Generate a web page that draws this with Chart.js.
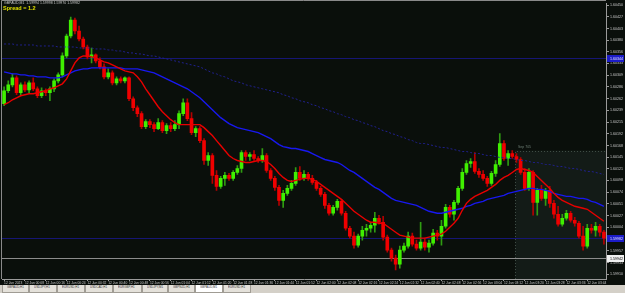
<!DOCTYPE html>
<html><head><meta charset="utf-8">
<script src="https://cdn.jsdelivr.net/npm/chart.js@4.4.0/dist/chart.umd.min.js"></script>
<style>
html,body{margin:0;padding:0;background:#0a0f0b;width:625px;height:293px;overflow:hidden;position:relative;font-family:"Liberation Sans",Arial,sans-serif}
#wrap{position:absolute;left:0;top:0;width:625px;height:285px}
canvas{display:block}
.t{position:absolute;white-space:nowrap;transform-origin:0 0}
#hdr{left:4px;top:1px;font-size:7px;color:#c8c8c8;transform:scale(0.5)}
#spread{left:3px;top:5px;font-size:11px;font-weight:bold;color:#e0e000;transform:scale(0.5)}
#rlab{left:518px;top:145px;font-size:7px;color:#6f7f76;transform:scale(0.5)}
#tabs{position:absolute;left:0;top:285px;width:625px;height:8px;background:#d4d0c8}
.tab{position:absolute;top:0;height:8px;border:1px solid #a09c94;border-top:none;background:#e4e1da;box-sizing:border-box;overflow:hidden}
.tab span{position:absolute;left:4px;top:1px;font-size:8px;line-height:8px;color:#333;transform:scale(0.37);transform-origin:0 0;white-space:nowrap}
.tab.active{background:#ffffff}
</style></head>
<body>
<div id="wrap"><canvas id="c" width="625" height="285"></canvas></div>
<div class="t" id="hdr">GBPAUD,M1&nbsp;&nbsp;1.59994 1.59998 1.59970 1.59982</div>
<div class="t" id="spread">Spread = 1.2</div>
<div class="t" id="rlab">Sep 705</div>
<div id="tabs"></div>
<script>
const opens = [1.60252,1.60278,1.60290,1.60304,1.60274,1.60290,1.60280,1.60294,1.60282,1.60268,
1.60278,1.60274,1.60282,1.60298,1.60310,1.60348,1.60388,1.60420,1.60398,1.60382,
1.60366,1.60346,1.60350,1.60338,1.60326,1.60306,1.60314,1.60294,1.60302,1.60298,
1.60304,1.60262,1.60244,1.60232,1.60206,1.60216,1.60210,1.60202,1.60214,1.60198,
1.60208,1.60202,1.60210,1.60232,1.60254,1.60222,1.60194,1.60202,1.60178,1.60138,
1.60148,1.60108,1.60086,1.60102,1.60108,1.60102,1.60114,1.60122,1.60154,1.60146,
1.60150,1.60142,1.60138,1.60148,1.60118,1.60102,1.60084,1.60058,1.60072,1.60082,
1.60092,1.60114,1.60102,1.60110,1.60102,1.60094,1.60082,1.60070,1.60048,1.60032,
1.60044,1.60056,1.60032,1.60002,1.59986,1.59968,1.59986,1.59998,1.60002,1.60008,
1.60022,1.60014,1.59984,1.59958,1.59942,1.59930,1.59958,1.59966,1.59986,1.59970,
1.59962,1.59974,1.59964,1.59972,1.59992,1.59986,1.60006,1.60044,1.60030,1.60054,
1.60082,1.60114,1.60132,1.60136,1.60116,1.60110,1.60102,1.60092,1.60112,1.60130,
1.60172,1.60142,1.60152,1.60146,1.60140,1.60114,1.60082,1.60114,1.60054,1.60078,
1.60062,1.60078,1.60052,1.60030,1.60010,1.60022,1.60032,1.60018,1.60012,1.59986,
1.59966,1.60002,1.59998,1.60006,1.59994];
const highs = [1.60286,1.60298,1.60312,1.60308,1.60294,1.60296,1.60298,1.60304,1.60286,1.60284,
1.60282,1.60286,1.60302,1.60314,1.60354,1.60392,1.60426,1.60424,1.60408,1.60386,
1.60370,1.60364,1.60352,1.60344,1.60332,1.60322,1.60318,1.60306,1.60306,1.60306,
1.60306,1.60266,1.60248,1.60236,1.60220,1.60220,1.60214,1.60222,1.60218,1.60212,
1.60214,1.60218,1.60238,1.60262,1.60262,1.60234,1.60206,1.60206,1.60182,1.60154,
1.60152,1.60118,1.60106,1.60114,1.60112,1.60118,1.60128,1.60158,1.60158,1.60154,
1.60158,1.60146,1.60162,1.60152,1.60122,1.60106,1.60088,1.60078,1.60088,1.60098,
1.60124,1.60126,1.60118,1.60114,1.60108,1.60098,1.60086,1.60074,1.60052,1.60048,
1.60060,1.60060,1.60036,1.60006,1.59994,1.59990,1.60006,1.60010,1.60014,1.60034,
1.60028,1.60026,1.59988,1.59962,1.59948,1.59966,1.59972,1.59994,1.59992,1.59978,
1.60014,1.59982,1.59978,1.60000,1.59998,1.60018,1.60050,1.60048,1.60058,1.60086,
1.60122,1.60138,1.60142,1.60154,1.60122,1.60118,1.60106,1.60116,1.60138,1.60192,
1.60178,1.60158,1.60158,1.60152,1.60144,1.60122,1.60122,1.60118,1.60082,1.60088,
1.60082,1.60086,1.60058,1.60046,1.60030,1.60038,1.60036,1.60024,1.60016,1.60006,
1.60010,1.60010,1.60014,1.60010,1.59998];
const lows = [1.60248,1.60274,1.60286,1.60270,1.60268,1.60276,1.60274,1.60278,1.60264,1.60264,
1.60268,1.60258,1.60276,1.60294,1.60306,1.60344,1.60384,1.60392,1.60378,1.60362,
1.60342,1.60334,1.60334,1.60322,1.60302,1.60302,1.60290,1.60290,1.60294,1.60294,
1.60258,1.60238,1.60226,1.60202,1.60202,1.60204,1.60196,1.60200,1.60194,1.60192,
1.60196,1.60198,1.60202,1.60228,1.60218,1.60190,1.60186,1.60174,1.60130,1.60128,
1.60092,1.60078,1.60082,1.60088,1.60098,1.60098,1.60110,1.60114,1.60138,1.60138,
1.60138,1.60134,1.60134,1.60114,1.60098,1.60078,1.60048,1.60044,1.60068,1.60078,
1.60088,1.60098,1.60098,1.60098,1.60090,1.60078,1.60066,1.60042,1.60028,1.60028,
1.60038,1.60028,1.59998,1.59982,1.59962,1.59964,1.59978,1.59986,1.59994,1.59994,
1.60010,1.59978,1.59954,1.59936,1.59918,1.59922,1.59954,1.59962,1.59966,1.59958,
1.59958,1.59958,1.59954,1.59968,1.59978,1.59968,1.60002,1.60024,1.60018,1.60050,
1.60078,1.60110,1.60124,1.60112,1.60104,1.60098,1.60086,1.60088,1.60106,1.60126,
1.60138,1.60128,1.60142,1.60134,1.60110,1.60078,1.60078,1.60028,1.60028,1.60058,
1.60048,1.60044,1.60022,1.60006,1.60006,1.60018,1.60014,1.60006,1.59982,1.59958,
1.59962,1.59992,1.59986,1.59986,1.59970];
const closes = [1.60278,1.60290,1.60304,1.60274,1.60290,1.60280,1.60294,1.60282,1.60268,1.60278,
1.60274,1.60282,1.60298,1.60310,1.60348,1.60388,1.60420,1.60398,1.60382,1.60366,
1.60346,1.60350,1.60338,1.60326,1.60306,1.60314,1.60294,1.60302,1.60298,1.60304,
1.60262,1.60244,1.60232,1.60206,1.60216,1.60210,1.60202,1.60214,1.60198,1.60208,
1.60202,1.60210,1.60232,1.60254,1.60222,1.60194,1.60202,1.60178,1.60138,1.60148,
1.60108,1.60086,1.60102,1.60108,1.60102,1.60114,1.60122,1.60154,1.60146,1.60150,
1.60142,1.60138,1.60148,1.60118,1.60102,1.60084,1.60058,1.60072,1.60082,1.60092,
1.60114,1.60102,1.60110,1.60102,1.60094,1.60082,1.60070,1.60048,1.60032,1.60044,
1.60056,1.60032,1.60002,1.59986,1.59968,1.59986,1.59998,1.60002,1.60008,1.60022,
1.60014,1.59984,1.59958,1.59942,1.59930,1.59958,1.59966,1.59986,1.59970,1.59962,
1.59974,1.59964,1.59972,1.59992,1.59986,1.60006,1.60044,1.60030,1.60054,1.60082,
1.60114,1.60132,1.60136,1.60116,1.60110,1.60102,1.60092,1.60112,1.60130,1.60172,
1.60142,1.60152,1.60146,1.60140,1.60114,1.60082,1.60114,1.60054,1.60078,1.60062,
1.60078,1.60052,1.60030,1.60010,1.60022,1.60032,1.60018,1.60012,1.59986,1.59966,
1.60002,1.59998,1.60006,1.59994,1.59982];
const maFast = [1.60250,1.60254,1.60260,1.60264,1.60268,1.60270,1.60272,1.60272,1.60274,1.60276,
1.60278,1.60282,1.60284,1.60288,1.60292,1.60302,1.60318,1.60334,1.60344,1.60348,
1.60348,1.60346,1.60344,1.60340,1.60336,1.60334,1.60330,1.60326,1.60322,1.60318,
1.60316,1.60314,1.60306,1.60296,1.60282,1.60270,1.60258,1.60246,1.60236,1.60228,
1.60220,1.60214,1.60210,1.60210,1.60210,1.60210,1.60210,1.60210,1.60204,1.60196,
1.60188,1.60178,1.60168,1.60158,1.60148,1.60142,1.60138,1.60136,1.60134,1.60134,
1.60136,1.60138,1.60138,1.60136,1.60130,1.60122,1.60112,1.60104,1.60098,1.60096,
1.60098,1.60100,1.60102,1.60102,1.60100,1.60096,1.60090,1.60084,1.60078,1.60072,
1.60066,1.60060,1.60052,1.60044,1.60036,1.60030,1.60024,1.60018,1.60014,1.60014,
1.60012,1.60012,1.60006,1.60000,1.59994,1.59988,1.59986,1.59984,1.59982,1.59982,
1.59982,1.59982,1.59984,1.59986,1.59988,1.59990,1.59996,1.60004,1.60012,1.60022,
1.60038,1.60052,1.60060,1.60066,1.60070,1.60074,1.60078,1.60084,1.60090,1.60098,
1.60104,1.60108,1.60114,1.60120,1.60122,1.60120,1.60118,1.60114,1.60106,1.60098,
1.60090,1.60082,1.60072,1.60064,1.60058,1.60054,1.60050,1.60046,1.60044,1.60042,
1.60040,1.60034,1.60028,1.60022,1.60016];
const maSlow = [1.60316,1.60314,1.60312,1.60312,1.60310,1.60310,1.60308,1.60308,1.60306,1.60306,
1.60306,1.60304,1.60304,1.60304,1.60306,1.60310,1.60314,1.60318,1.60320,1.60322,
1.60322,1.60324,1.60324,1.60324,1.60324,1.60324,1.60324,1.60324,1.60324,1.60322,
1.60322,1.60322,1.60322,1.60320,1.60318,1.60316,1.60314,1.60310,1.60306,1.60302,
1.60298,1.60294,1.60290,1.60286,1.60282,1.60276,1.60270,1.60264,1.60256,1.60248,
1.60240,1.60232,1.60224,1.60218,1.60212,1.60208,1.60204,1.60202,1.60200,1.60198,
1.60196,1.60194,1.60190,1.60186,1.60182,1.60176,1.60170,1.60166,1.60164,1.60162,
1.60162,1.60160,1.60158,1.60156,1.60152,1.60148,1.60144,1.60140,1.60138,1.60136,
1.60134,1.60130,1.60124,1.60118,1.60114,1.60108,1.60102,1.60096,1.60090,1.60084,
1.60080,1.60074,1.60068,1.60062,1.60058,1.60056,1.60054,1.60052,1.60050,1.60048,
1.60044,1.60040,1.60036,1.60034,1.60032,1.60032,1.60034,1.60036,1.60038,1.60040,
1.60042,1.60046,1.60048,1.60052,1.60054,1.60056,1.60060,1.60062,1.60064,1.60066,
1.60068,1.60072,1.60074,1.60076,1.60078,1.60080,1.60082,1.60082,1.60080,1.60080,
1.60078,1.60076,1.60072,1.60070,1.60068,1.60066,1.60066,1.60064,1.60062,1.60062,
1.60060,1.60056,1.60054,1.60050,1.60046];
const maLong = [1.60372,1.60372,1.60372,1.60370,1.60370,1.60370,1.60370,1.60370,1.60368,1.60368,
1.60368,1.60368,1.60368,1.60366,1.60366,1.60366,1.60366,1.60366,1.60364,1.60364,
1.60364,1.60364,1.60362,1.60362,1.60362,1.60360,1.60360,1.60358,1.60358,1.60356,
1.60354,1.60354,1.60352,1.60352,1.60350,1.60348,1.60348,1.60346,1.60344,1.60342,
1.60340,1.60338,1.60336,1.60334,1.60332,1.60330,1.60328,1.60326,1.60322,1.60318,
1.60314,1.60312,1.60308,1.60306,1.60302,1.60298,1.60296,1.60294,1.60290,1.60288,
1.60286,1.60284,1.60282,1.60280,1.60278,1.60276,1.60274,1.60270,1.60268,1.60264,
1.60262,1.60258,1.60256,1.60254,1.60250,1.60248,1.60244,1.60242,1.60238,1.60236,
1.60232,1.60230,1.60226,1.60224,1.60220,1.60218,1.60214,1.60212,1.60208,1.60206,
1.60202,1.60198,1.60196,1.60192,1.60190,1.60186,1.60184,1.60180,1.60178,1.60174,
1.60172,1.60172,1.60170,1.60168,1.60166,1.60164,1.60164,1.60162,1.60160,1.60158,
1.60156,1.60156,1.60154,1.60152,1.60152,1.60150,1.60148,1.60148,1.60146,1.60144,
1.60144,1.60142,1.60142,1.60140,1.60138,1.60138,1.60136,1.60134,1.60134,1.60132,
1.60130,1.60130,1.60128,1.60126,1.60126,1.60124,1.60122,1.60122,1.60120,1.60118,
1.60116,1.60116,1.60114,1.60112,1.60110];
const hLevels = [1.60344, 1.59982, 1.59942];
const rectZone = [122.7, 150, 1.60158, 1.59900];
const yTicks = [1.60450,1.60427,1.60403,1.60380,1.60356,1.60333,1.60309,1.60286,1.60262,1.60239,1.60215,1.60192,1.60168,1.60145,1.60121,1.60098,1.60074,1.60051,1.60027,1.60004,1.59980,1.59957,1.59933,1.59910];
const xTickLabels = ["12 Jun 2023","12 Jun 00:08","12 Jun 00:16","12 Jun 00:24","12 Jun 00:32","12 Jun 00:40","12 Jun 00:48","12 Jun 00:56","12 Jun 01:04","12 Jun 01:12","12 Jun 01:20","12 Jun 01:28","12 Jun 01:36","12 Jun 01:44","12 Jun 01:52","12 Jun 02:00","12 Jun 02:08","12 Jun 02:16","12 Jun 02:24","12 Jun 02:32","12 Jun 02:40","12 Jun 02:48","12 Jun 02:56","12 Jun 03:04","12 Jun 03:12","12 Jun 03:20","12 Jun 03:28","12 Jun 03:36","12 Jun 03:44"];
const tabNames = ["GBPAUD,H1","USDJPY,H1","EURUSD,H1","USDCAD,H1","EURGBP,H1","USDJPY,M1","GBPNZD,H1","GBPAUD,M1","EURUSD,H1"];
const activeTab = 7;

// tabs
const tabLefts = [2,29,57,85,113,142,168,195,223];
const tabsEl = document.getElementById('tabs');
tabNames.forEach((n,i)=>{
  const d=document.createElement('div');
  d.className='tab'+(i===activeTab?' active':'');
  d.style.left=tabLefts[i]+'px';
  d.style.width=((tabLefts[i+1]||251)-tabLefts[i])+'px';
  const s=document.createElement('span'); s.textContent=n; d.appendChild(s);
  tabsEl.appendChild(d);
});

const idx = closes.map((_,i)=>i);
const up = closes.map((c,i)=>c>=opens[i]);
const BG='#0a0f0b';
const decor = {
  id:'decor',
  beforeDraw(chart){
    const {ctx,width,height}=chart;
    ctx.save(); ctx.fillStyle=BG; ctx.fillRect(0,0,width,height); ctx.restore();
  },
  beforeDatasetsDraw(chart){
    const {ctx,chartArea:a,scales:{x,y}}=chart;
    ctx.save();
    ctx.beginPath(); ctx.rect(a.left,a.top,a.right-a.left,a.bottom-a.top); ctx.clip();
    const rx0=x.getPixelForValue(rectZone[0]), rx1=Math.min(a.right,x.getPixelForValue(rectZone[1]));
    const ry0=y.getPixelForValue(rectZone[2]), ry1=y.getPixelForValue(rectZone[3]);
    ctx.fillStyle='#131b17'; ctx.fillRect(rx0,ry0,rx1-rx0,ry1-ry0);
    ctx.strokeStyle='#3f4d45'; ctx.lineWidth=1; ctx.setLineDash([1,2]);
    ctx.beginPath(); ctx.moveTo(Math.round(rx0)+0.5,ry1); ctx.lineTo(Math.round(rx0)+0.5,Math.round(ry0)+0.5); ctx.lineTo(rx1,Math.round(ry0)+0.5); ctx.stroke();
    ctx.setLineDash([]);
    const cols=['#161674','#161674','#8c8c8c'];
    hLevels.forEach((v,i)=>{
      const py=Math.round(y.getPixelForValue(v))+0.5;
      ctx.strokeStyle=cols[i]; ctx.lineWidth=1;
      ctx.beginPath(); ctx.moveTo(a.left,py); ctx.lineTo(a.right,py); ctx.stroke();
    });
    ctx.restore();
  },
  afterDraw(chart){
    const {ctx,chartArea:a,scales:{y},width}=chart;
    ctx.save();
    ctx.strokeStyle='#8a8a8a'; ctx.lineWidth=1;
    ctx.beginPath(); ctx.moveTo(1.5,a.bottom); ctx.lineTo(1.5,0.5); ctx.lineTo(a.right,0.5); ctx.stroke();
    const boxes=[['#1c1cc8','#e8e8ff'],['#1c1cc8','#e8e8ff'],['#f0f0f0','#000000']];
    ctx.font='3.6px "Liberation Sans"'; ctx.textBaseline='middle'; ctx.textAlign='left';
    hLevels.forEach((v,i)=>{
      const py=Math.round(y.getPixelForValue(v));
      ctx.fillStyle=boxes[i][0]; ctx.fillRect(a.right+1,py-3,width-a.right-2,7);
      ctx.fillStyle=boxes[i][1]; ctx.fillText(v.toFixed(5),a.right+4,py+0.5);
    });
    ctx.restore();
  }
};

new Chart(document.getElementById('c'),{
  type:'bar',
  data:{
    labels: idx,
    datasets:[
      {type:'line',label:'MA fast',data:maFast,borderColor:'#e80000',borderWidth:1.4,pointRadius:0,order:0},
      {type:'line',label:'MA slow',data:maSlow,borderColor:'#1818f0',borderWidth:1.4,pointRadius:0,order:0},
      {type:'line',label:'MA long',data:maLong,borderColor:'#20208e',borderWidth:1,borderDash:[2,2],pointRadius:0,order:0},
      {label:'wick',data:lows.map((l,i)=>[l,highs[i]]),backgroundColor:up.map(u=>u?'#2f9c12':'#b40000'),barThickness:1,grouped:false,order:2},
      {label:'body',data:opens.map((o,i)=>[o,closes[i]]),backgroundColor:up.map(u=>u?'#40f000':'#f00000'),barThickness:3,grouped:false,minBarLength:1,order:1}
    ]
  },
  options:{
    responsive:false, animation:false, devicePixelRatio:1,
    layout:{padding:{left:2,top:2,right:0,bottom:0}},
    plugins:{legend:{display:false},tooltip:{enabled:false}},
    scales:{
      x:{
        grid:{display:true,offset:false,drawOnChartArea:false,drawTicks:true,tickLength:2,color:'#9a9a9a'},
        border:{color:'#9a9a9a'},
        ticks:{autoSkip:false,maxRotation:0,minRotation:0,align:'start',padding:0,color:'#c8c8c8',
          font:{size:3.3,family:'Liberation Sans'},
          callback:(v,i)=> i%5===0 ? xTickLabels[i/5] : null},
        afterFit:(s)=>{s.height=6;}
      },
      y:{
        position:'right', min:1.59900, max:1.60454,
        grid:{drawOnChartArea:false,drawTicks:true,tickLength:3,color:'#9a9a9a'},
        border:{color:'#9a9a9a'},
        ticks:{padding:1,color:'#c8c8c8',font:{size:3.6,family:'Liberation Sans'},callback:(v)=>Number(v).toFixed(5)},
        afterBuildTicks:(s)=>{s.ticks=yTicks.map(v=>({value:v}));},
        afterFit:(s)=>{s.width=19;}
      }
    }
  },
  plugins:[decor]
});
</script>
</body></html>
